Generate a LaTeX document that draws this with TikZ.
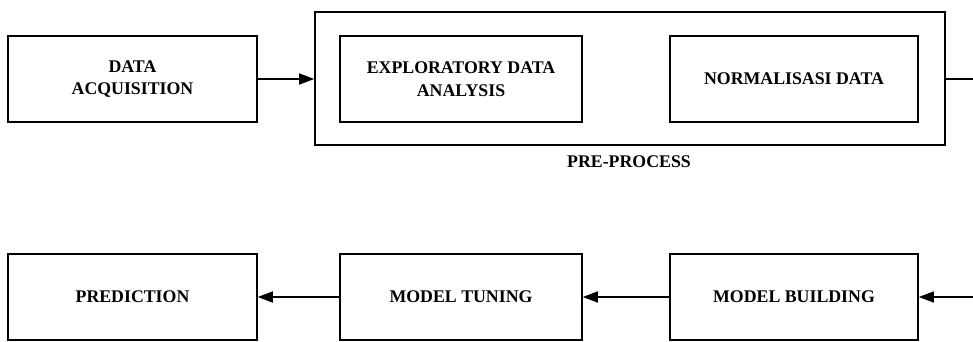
\documentclass[tikz,border=0pt]{standalone}
\usepackage{fontspec}
\setmainfont{Liberation Serif}
\usetikzlibrary{arrows.meta}
\begin{document}
\begin{tikzpicture}[x=1pt,y=-1pt,
  blk/.style={draw,line width=1.6pt,inner sep=0pt},
  lbl/.style={font=\fontsize{17.8}{22.5}\selectfont\bfseries,align=center},
  conn/.style={line width=1.6pt,-{Triangle[length=15pt,width=11pt]}},
  plain/.style={line width=1.6pt}]
\useasboundingbox (0,0) rectangle (973,341);
\node[blk,minimum width=249pt,minimum height=86pt] (acq) at (132.5,79) {};
\node[lbl] at (acq.center) {DATA\\ACQUISITION};
\node[blk,minimum width=630pt,minimum height=133pt] (pre) at (630,78.5) {};
\node[blk,minimum width=242pt,minimum height=86pt] (eda) at (461,79) {};
\node[lbl] at (eda.center) {EXPLORATORY DATA\\ANALYSIS};
\node[blk,minimum width=248pt,minimum height=86pt] (norm) at (794,79) {};
\node[lbl] at (norm.center) {NORMALISASI DATA};
\node[lbl] (prel) at (629,162) {PRE-PROCESS};
\node[blk,minimum width=249pt,minimum height=86pt] (pred) at (132.5,297) {};
\node[lbl] at (pred.center) {PREDICTION};
\node[blk,minimum width=242pt,minimum height=86pt] (tune) at (461,297) {};
\node[lbl] at (tune.center) {MODEL TUNING};
\node[blk,minimum width=248pt,minimum height=86pt] (build) at (794,297) {};
\node[lbl] at (build.center) {MODEL BUILDING};
\coordinate (outR) at (973,79);
\coordinate (inR) at (973,297);
\draw[conn] (acq.east) -- (pre.west |- acq.east);
\draw[plain] (pre.east |- outR) -- (outR);
\draw[conn] (inR) -- (build.east);
\draw[conn] (build.west) -- (tune.east);
\draw[conn] (tune.west) -- (pred.east);
\end{tikzpicture}
\end{document}
